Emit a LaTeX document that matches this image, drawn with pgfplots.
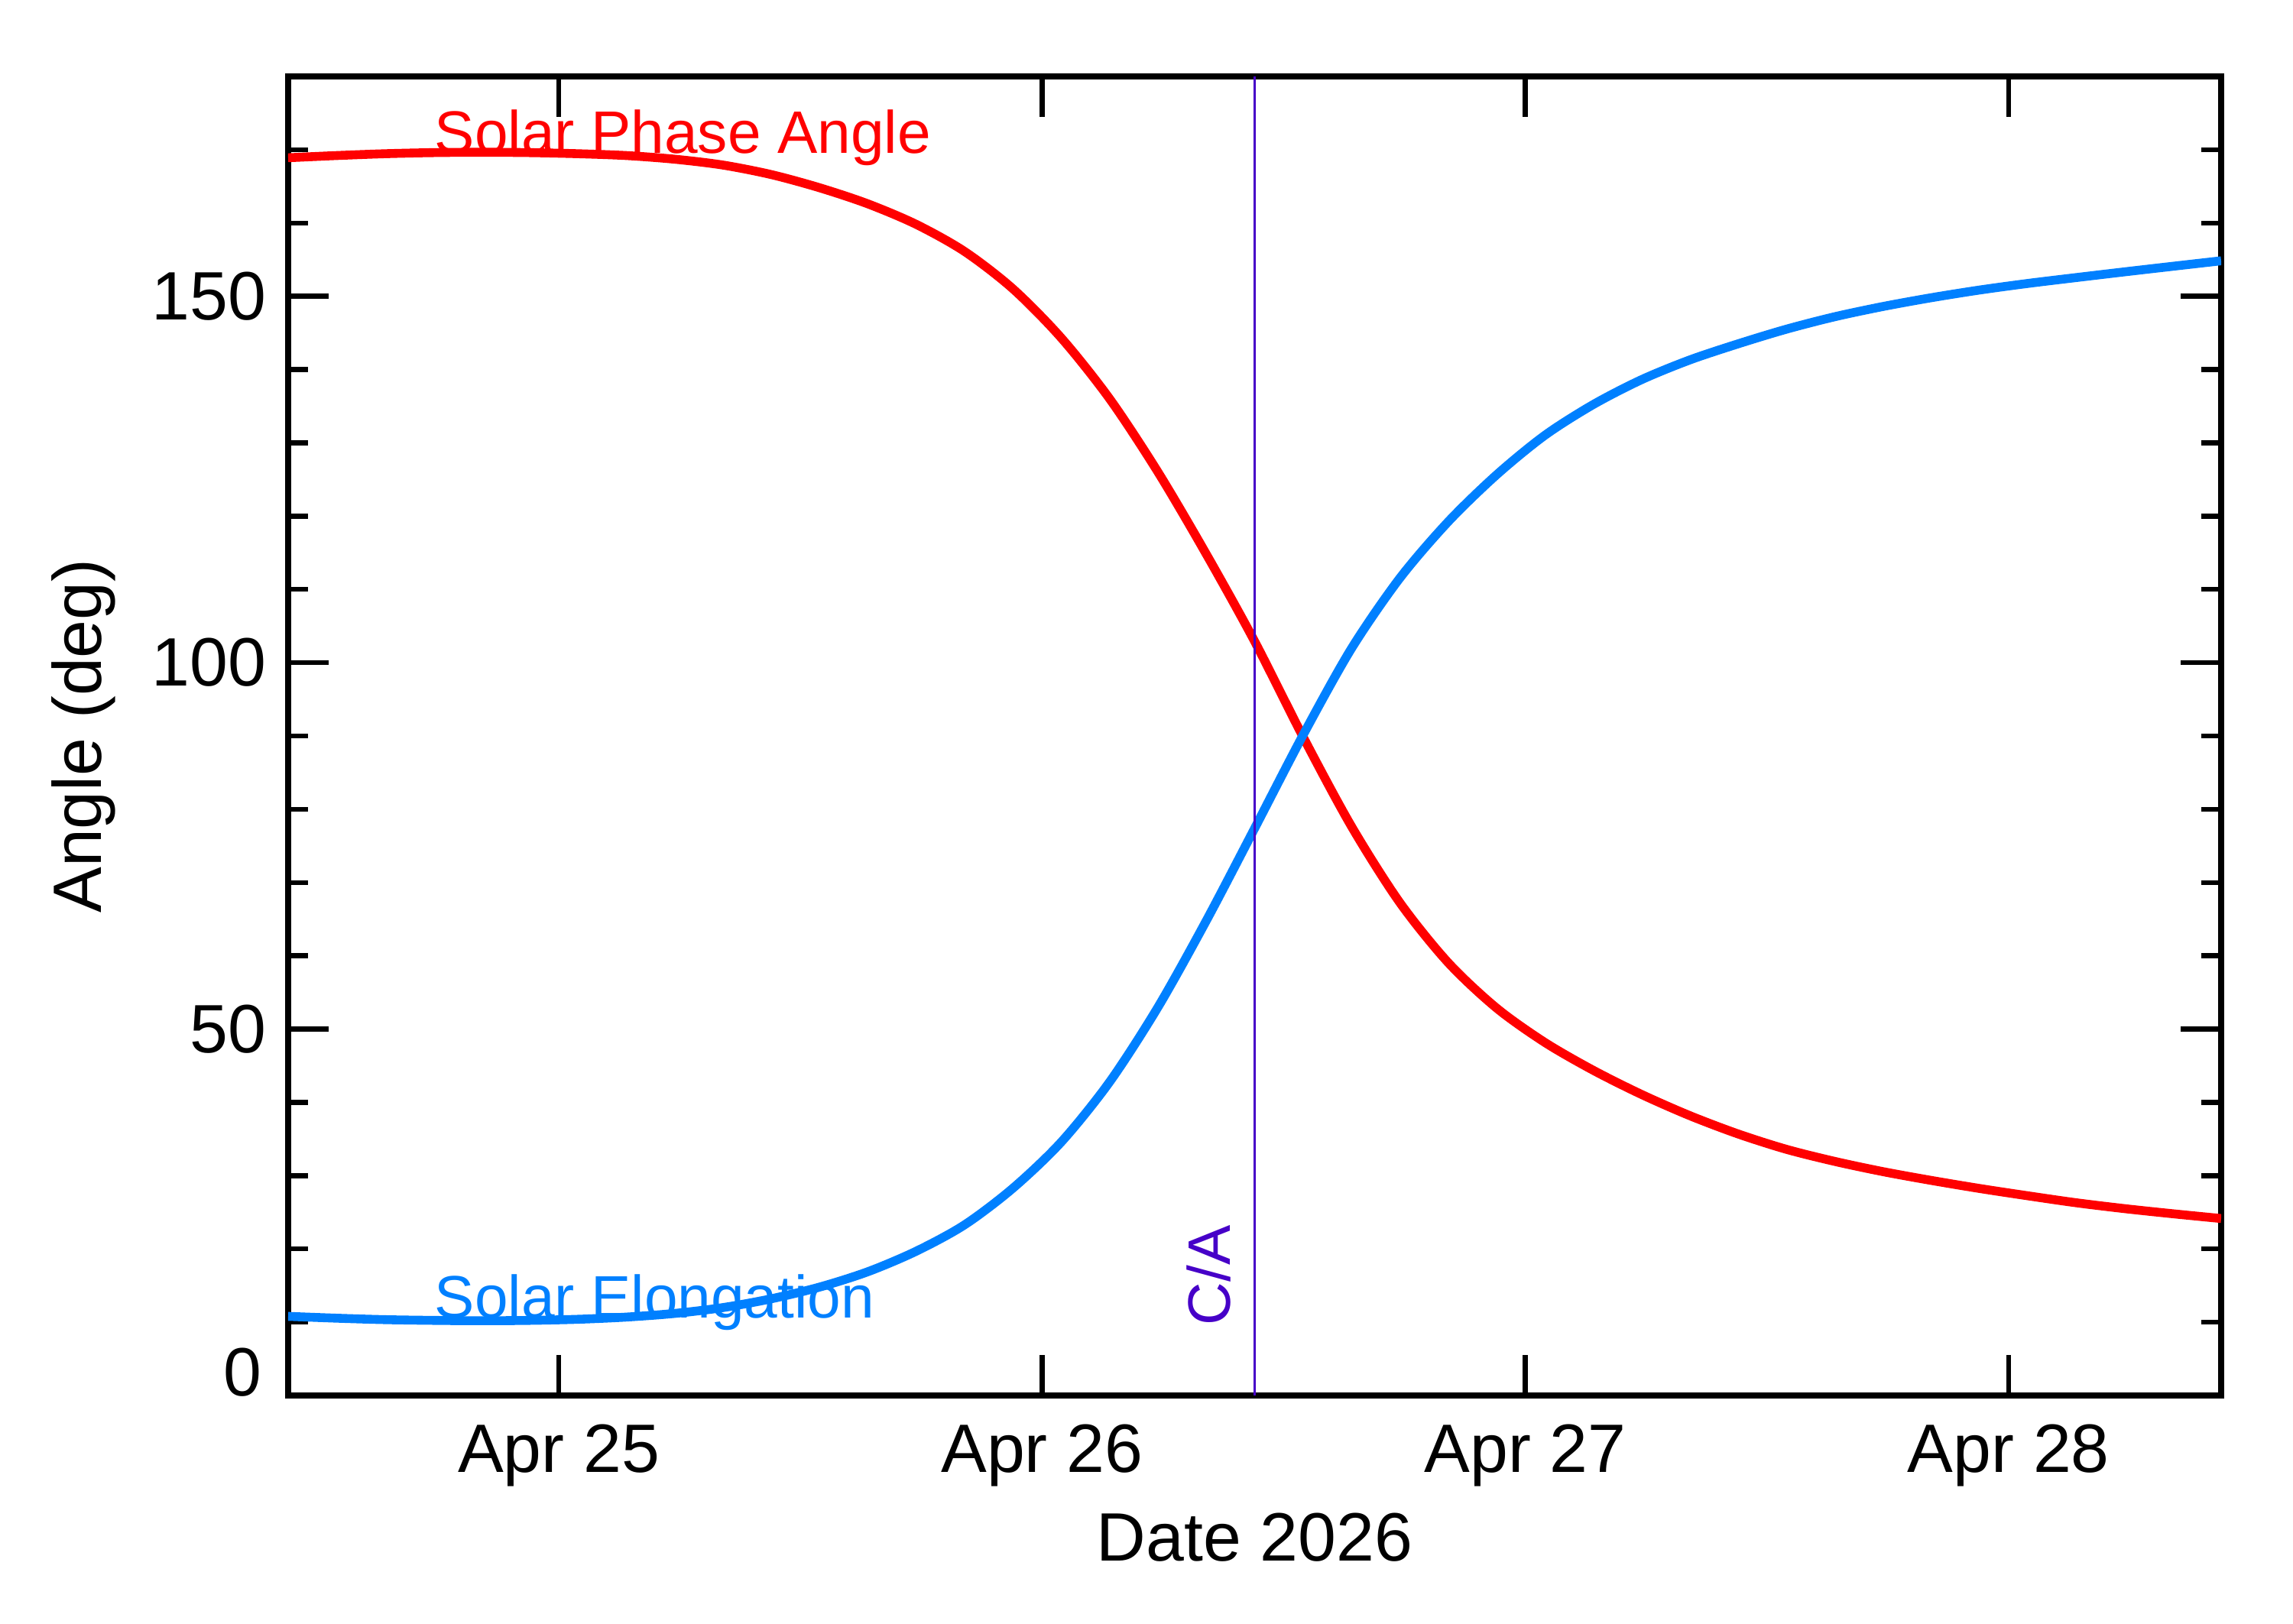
\documentclass[border=0pt]{standalone}
\usepackage{fontspec}
\setmainfont{Liberation Sans}
\usepackage{pgfplots}
\pgfplotsset{compat=1.18}

\definecolor{phasered}{RGB}{255,0,0}
\definecolor{elongblue}{RGB}{0,128,255}
\definecolor{capurple}{RGB}{70,0,200}
\newcommand{\bigfont}{\fontsize{22.4bp}{26bp}\selectfont}
\newcommand{\notefont}{\fontsize{19.6bp}{23bp}\selectfont}

\begin{document}
\begin{tikzpicture}
\begin{axis}[
    width=632.25bp, height=431.5bp, scale only axis,
    xmin=24.44, xmax=28.44,
    ymin=0, ymax=180,
    xtick={25,26,27,28},
    xticklabels={Apr 25,Apr 26,Apr 27,Apr 28},
    ytick={50,100,150},
    minor ytick={10,20,...,170},
    extra y ticks={0},
    extra y tick style={yticklabel style={anchor=base east, xshift=-1.5bp}},
    tick align=inside,
    major tick length=13.3bp,
    minor tick length=6.5bp,
    tick style={black, line width=1.6bp},
    axis line style={line width=1.8bp},
    tick label style={font=\bigfont},
    /pgf/number format/assume math mode=true,
    xticklabel style={anchor=north, inner sep=0pt, yshift=-9.3bp},
    yticklabel style={anchor=east, inner sep=0pt, xshift=-7bp},
    label style={font=\bigfont},
    xlabel={Date 2026},
    ylabel={Angle (deg)},
    xlabel style={at={(axis description cs:0.5,-0.1254)}, anchor=base},
    ylabel style={at={(axis description cs:-0.0965,0.5)}, anchor=base},
]

% labels of the two curves
\node[phasered, font=\notefont, anchor=base west, inner sep=0pt]
    at (axis cs:24.742,169.5) {Solar Phase Angle};
\node[elongblue, font=\notefont, anchor=base west, inner sep=0pt]
    at (axis cs:24.742,10.6) {Solar Elongation};

% solar phase angle, every 0.1 day
\addplot[phasered, line width=2.9bp, smooth] coordinates {
    (24.44,168.9) (24.54,169.2) (24.64,169.45) (24.74,169.6) (24.84,169.65)
    (24.94,169.6) (25.04,169.45) (25.14,169.2) (25.24,168.7) (25.34,167.9)
    (25.44,166.6) (25.54,164.8) (25.64,162.6) (25.74,159.8) (25.84,156.1)
    (25.94,151.0) (26.04,144.3) (26.14,136.0) (26.24,126.0) (26.34,114.8)
    (26.44,102.9) (26.54,89.9) (26.64,77.7) (26.74,67.3) (26.84,59.1)
    (26.94,52.9) (27.04,48.2) (27.14,44.4) (27.24,41.1) (27.34,38.2)
    (27.44,35.7) (27.54,33.6) (27.64,31.95) (27.74,30.55) (27.84,29.35)
    (27.94,28.25) (28.04,27.25) (28.14,26.3) (28.24,25.5) (28.34,24.8)
    (28.44,24.15)
};

% solar elongation, every 0.1 day
\addplot[elongblue, line width=2.9bp, smooth] coordinates {
    (24.44,10.8) (24.54,10.55) (24.64,10.35) (24.74,10.25) (24.84,10.2)
    (24.94,10.25) (25.04,10.4) (25.14,10.7) (25.24,11.2) (25.34,12.0)
    (25.44,13.2) (25.54,14.8) (25.64,16.9) (25.74,19.7) (25.84,23.3)
    (25.94,28.3) (26.04,34.6) (26.14,42.8) (26.24,53.0) (26.34,64.8)
    (26.44,77.4) (26.54,90.1) (26.64,101.9) (26.74,111.5) (26.84,119.2)
    (26.94,125.6) (27.04,131.0) (27.14,135.2) (27.24,138.6) (27.34,141.3)
    (27.44,143.5) (27.54,145.5) (27.64,147.2) (27.74,148.6) (27.84,149.8)
    (27.94,150.85) (28.04,151.75) (28.14,152.55) (28.24,153.33) (28.34,154.09)
    (28.44,154.84)
};

% closest approach
\addplot[capurple, line width=0.7bp] coordinates {(26.44,0) (26.44,180)};
\node[capurple, font=\notefont, rotate=90, anchor=base west, inner sep=0pt]
    at (axis cs:26.39,9.5) {C/A};

\end{axis}
\pgfresetboundingbox
\path[use as bounding box]
    ([shift={(-94.25bp,-74.75bp)}]current axis.south west)
    rectangle ([shift={(23.5bp,25bp)}]current axis.north east);
\end{tikzpicture}
\end{document}
